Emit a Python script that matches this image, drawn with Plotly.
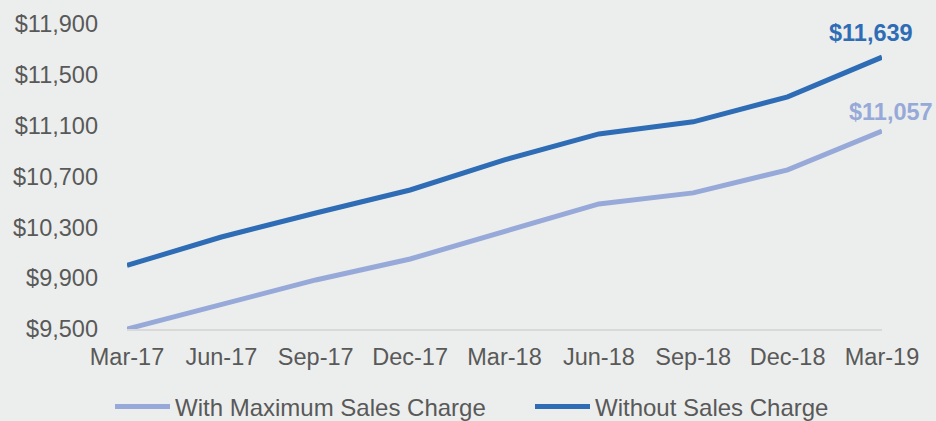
import plotly.graph_objects as go

categories = ["Mar-17", "Jun-17", "Sep-17", "Dec-17", "Mar-18", "Jun-18", "Sep-18", "Dec-18", "Mar-19"]
with_max_sales_charge = [9500, 9697, 9886, 10051, 10264, 10484, 10571, 10752, 11057]
without_sales_charge = [10000, 10224, 10413, 10594, 10831, 11035, 11130, 11327, 11639]
y_ticks = [9500, 9900, 10300, 10700, 11100, 11500, 11900]
y_tick_labels = ["$9,500", "$9,900", "$10,300", "$10,700", "$11,100", "$11,500", "$11,900"]

LIGHT = "#97A9D8"
DARK = "#2E6DB5"
TEXT = "#595959"
BG = "#ECEEED"
FONT = "Liberation Sans, Arial, sans-serif"
FS = 23.5

fig = go.Figure()
fig.add_trace(go.Scatter(x=categories, y=with_max_sales_charge, mode="lines",
                         name="With Maximum Sales Charge", legend="legend",
                         line=dict(color=LIGHT, width=5)))
fig.add_trace(go.Scatter(x=categories, y=without_sales_charge, mode="lines",
                         name="Without Sales Charge", legend="legend2",
                         line=dict(color=DARK, width=5)))

fig.add_annotation(x=categories[-1], y=without_sales_charge[-1], xref="x", yref="y",
                   text="<b>$11,639</b>", showarrow=False, xanchor="center", yanchor="middle",
                   xshift=-11, yshift=24, font=dict(color=DARK, size=FS, family=FONT))
fig.add_annotation(x=categories[-1], y=with_max_sales_charge[-1], xref="x", yref="y",
                   text="<b>$11,057</b>", showarrow=False, xanchor="center", yanchor="middle",
                   xshift=9, yshift=19, font=dict(color=LIGHT, size=FS, family=FONT))

legend_common = dict(orientation="h", xref="container", yref="container",
                     xanchor="left", y=14 / 421, yanchor="middle",
                     itemwidth=55, font=dict(size=24, color=TEXT),
                     bgcolor="rgba(0,0,0,0)")

fig.update_layout(
    width=936, height=421,
    margin=dict(l=127, r=54, t=24, b=92, autoexpand=False),
    paper_bgcolor=BG, plot_bgcolor=BG,
    font=dict(family=FONT, color=TEXT, size=FS),
    showlegend=True,
    legend=dict(x=110 / 936, **legend_common),
    legend2=dict(x=530 / 936, **legend_common),
    xaxis=dict(type="category", range=[0, 8], showgrid=False, zeroline=False,
               showline=True, linecolor="#D9D9D9", linewidth=2, ticks="",
               ticklabelstandoff=6, tickfont=dict(size=FS, color=TEXT), fixedrange=True),
    yaxis=dict(range=[9500, 11900], tickvals=y_ticks, ticktext=y_tick_labels,
               showgrid=False, zeroline=False, showline=False, ticks="",
               ticklabelstandoff=28, tickfont=dict(size=FS, color=TEXT), fixedrange=True),
)

fig.write_html("out.html", config={"displayModeBar": False},
               post_script="document.body.style.margin='0px';")
